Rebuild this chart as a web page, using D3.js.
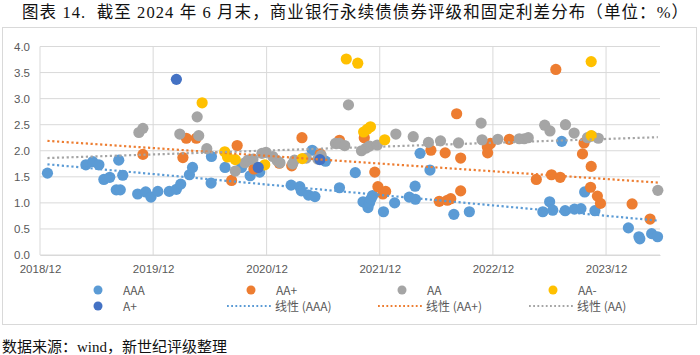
<!DOCTYPE html>
<html><head><meta charset="utf-8">
<script src="https://cdn.jsdelivr.net/npm/d3@7"></script>
<style>html,body{margin:0;padding:0;background:#fff;}svg{display:block;}</style>
</head><body>
<script>
// ---------- data ----------
const title = "图表 14.\u00A0\u00A0截至 2024 年 6 月末，商业银行永续债债券评级和固定利差分布（单位：%）";
const source = "数据来源：wind，新世纪评级整理";
const xTickLabels = ["2018/12","2019/12","2020/12","2021/12","2022/12","2023/12"];
const yTicks = [0,0.5,1,1.5,2,2.5,3,3.5,4];

const seriesAAA = [
 ["2018-12-25",1.57],["2019-04-28",1.73],["2019-05-20",1.79],["2019-06-09",1.73],["2019-06-25",1.45],
 ["2019-07-14",1.49],["2019-08-12",1.82],["2019-08-25",1.53],["2019-08-04",1.25],["2019-08-17",1.25],
 ["2019-10-12",1.17],["2019-11-07",1.21],["2019-11-24",1.11],["2019-12-16",1.22],["2020-01-22",1.22],
 ["2020-02-14",1.26],["2020-02-28",1.36],["2020-03-27",1.54],["2020-04-06",1.68],["2020-06-05",1.38],
 ["2020-06-06",1.89],["2020-07-20",1.68],["2020-09-11",1.68],["2020-10-09",1.52],["2020-11-09",1.59],
 ["2021-02-18",1.34],["2021-03-18",1.31],["2021-03-23",1.23],["2021-04-15",1.15],["2021-05-06",1.12],
 ["2021-04-27",2.01],["2021-06-09",1.80],["2021-07-24",1.29],["2021-09-13",1.58],["2021-10-08",1.02],
 ["2021-10-24",0.91],["2021-10-29",1.00],["2021-11-08",1.14],["2021-11-03",1.08],["2021-12-13",0.83],
 ["2022-01-18",1.00],["2022-03-06",1.11],["2022-03-26",1.07],["2022-03-25",1.32],["2022-04-10",1.95],
 ["2022-05-12",1.63],["2022-07-28",0.78],["2022-09-16",0.83],["2023-05-11",0.83],["2023-06-02",1.02],
 ["2023-06-12",0.86],["2023-07-11",2.18],["2023-07-22",0.85],["2023-08-21",0.88],["2023-09-11",0.89],
 ["2023-09-23",1.21],["2023-10-26",0.85],["2024-02-11",0.52],["2024-03-19",0.31],["2024-03-16",0.35],
 ["2024-04-26",0.41],["2024-05-15",0.35]
];
const seriesAAplus = [
 ["2019-10-29",1.93],["2020-03-06",1.87],["2020-03-17",2.24],["2020-04-18",2.24],["2020-08-10",1.43],
 ["2020-08-28",2.10],["2020-10-21",1.65],["2021-01-11",1.76],["2021-02-20",1.71],["2021-03-25",2.25],
 ["2021-05-23",1.94],["2021-07-24",2.20],["2021-10-12",2.25],["2021-11-15",1.59],["2021-11-25",1.31],
 ["2021-12-11",1.17],["2021-12-20",1.22],["2022-05-15",2.01],["2022-06-11",1.03],["2022-06-30",1.96],
 ["2022-07-07",1.05],["2022-07-18",1.08],["2022-08-06",2.71],["2022-08-19",1.86],["2022-08-19",1.23],
 ["2022-11-13",2.07],["2022-11-14",1.96],["2022-11-23",2.14],["2023-01-23",2.22],["2023-04-20",1.45],
 ["2023-06-08",1.54],["2023-06-22",3.56],["2023-07-06",1.49],["2023-09-16",1.94],["2023-09-21",2.15],
 ["2023-10-14",1.70],["2023-10-12",1.30],["2023-11-03",1.13],["2023-11-13",0.99],["2024-02-23",0.98],
 ["2024-04-21",0.69]
];
const seriesAA = [
 ["2019-10-16",2.35],["2019-10-29",2.43],["2020-02-25",2.32],["2020-04-21",2.65],["2020-04-26",2.29],
 ["2020-05-22",2.04],["2020-08-22",1.61],["2020-09-22",1.77],["2020-10-02",1.82],["2020-10-18",1.84],
 ["2020-11-16",1.95],["2020-11-29",1.97],["2020-12-21",1.89],["2021-01-04",1.81],["2021-01-13",1.77],
 ["2021-02-23",1.75],["2021-03-01",1.82],["2021-04-08",1.86],["2021-05-15",1.84],["2021-05-26",1.91],
 ["2021-07-11",2.14],["2021-07-24",2.14],["2021-08-10",2.10],["2021-08-22",2.88],["2021-10-03",2.00],
 ["2021-10-18",2.05],["2021-10-29",2.09],["2021-11-23",2.11],["2022-01-22",2.32],["2022-03-19",2.27],
 ["2022-05-07",2.16],["2022-06-15",2.19],["2022-08-12",2.15],["2022-10-24",2.53],["2022-10-27",2.21],
 ["2022-12-17",2.22],["2023-02-24",2.23],["2023-03-12",2.23],["2023-03-25",2.25],["2023-05-17",2.49],
 ["2023-06-03",2.38],["2023-07-23",2.50],["2023-08-20",2.34],["2023-10-02",2.25],["2023-10-17",2.28],
 ["2023-11-06",2.24],["2024-05-16",1.24]
];
const seriesAAminus = [
 ["2020-05-07",2.92],["2020-07-19",1.98],["2020-07-28",1.88],["2020-08-22",1.83],["2020-11-25",1.73],
 ["2021-03-26",1.85],["2021-08-15",3.76],["2021-09-21",3.68],["2021-10-10",2.36],["2021-10-21",2.41],
 ["2021-11-01",2.46],["2021-12-17",2.21],["2023-10-14",3.71],["2023-10-14",2.29]
];
const seriesAplus = [
 ["2020-02-14",3.37],["2020-11-04",1.68],["2021-05-22",1.83]
];
// linear trend lines, start / end values
const trendDates = ["2018-12-25","2024-05-16"];
const trendAAA = [1.74, 0.66];
const trendAAplus = [2.19, 1.39];
const trendAA = [1.86, 2.26];

// ---------- drawing ----------
const W = 700, H = 355;
const parse = d3.timeParse("%Y-%m-%d");
const svg = d3.select("body").append("svg").attr("width", W).attr("height", H);
const sans = "'Noto Sans CJK SC', 'Noto Sans', sans-serif";
const latin = "'Liberation Sans', Arial, sans-serif";
const serif = "'Liberation Serif', 'Noto Sans CJK SC', serif";

svg.append("text").attr("x", 22).attr("y", 18)
  .attr("font-family", serif).attr("font-size", 16.5).attr("fill", "#111")
  .attr("textLength", 666).attr("lengthAdjust", "spacing").text(title);

svg.append("rect").attr("x", 2.5).attr("y", 27.5).attr("width", 694).attr("height", 297)
  .attr("fill", "#fff").attr("stroke", "#d9d9d9");

const x = d3.scaleTime().domain([parse("2018-12-01"), parse("2024-05-23")]).range([40, 660]);
const y = d3.scaleLinear().domain([0, 4]).range([255, 46.5]);
const tickDates = xTickLabels.map(s => parse(s.replace("/", "-") + "-01"));

const g = svg.append("g");
// horizontal grid
g.selectAll(".hg").data(yTicks).join("line")
  .attr("x1", 40).attr("x2", 660).attr("y1", d => y(d)).attr("y2", d => y(d))
  .attr("stroke", "#d9d9d9").attr("stroke-width", 1);
// vertical grid
g.selectAll(".vg").data(tickDates).join("line")
  .attr("x1", d => x(d)).attr("x2", d => x(d)).attr("y1", y(4)).attr("y2", y(0))
  .attr("stroke", "#d9d9d9").attr("stroke-width", 1);

// axes labels
const yAxis = d3.axisLeft(y).tickValues(yTicks).tickFormat(d3.format(".1f")).tickSize(0).tickPadding(10);
const ya = svg.append("g").attr("transform", "translate(40,0)").call(yAxis);
ya.select(".domain").remove();
ya.selectAll("text").attr("font-family", latin).attr("font-size", 11.5).attr("fill", "#595959");

const xAxis = d3.axisBottom(x).tickValues(tickDates).tickFormat((d, i) => xTickLabels[i]).tickSize(0).tickPadding(10);
const xa = svg.append("g").attr("transform", "translate(0,255)").call(xAxis);
xa.select(".domain").attr("stroke", "#d9d9d9");
xa.selectAll("text").attr("font-family", latin).attr("font-size", 11.5).attr("fill", "#595959");

const colors = {AAA: "#5B9BD5", AAp: "#ED7D31", AA: "#A5A5A5", AAm: "#FFC000", Ap: "#4472C4"};
const R = 5.6;
function dots(data, color) {
  g.append("g").selectAll("circle").data(data).join("circle")
    .attr("cx", d => x(parse(d[0]))).attr("cy", d => y(d[1])).attr("r", R).attr("fill", color);
}
dots(seriesAAA, colors.AAA);
dots(seriesAAplus, colors.AAp);
dots(seriesAA, colors.AA);
dots(seriesAAminus, colors.AAm);
dots(seriesAplus, colors.Ap);

function trend(vals, color) {
  const pts = trendDates.map((d, i) => [x(parse(d)), y(vals[i])]);
  g.append("path").attr("d", d3.line()(pts)).attr("fill", "none")
    .attr("stroke", color).attr("stroke-width", 2.2)
    .attr("stroke-dasharray", "2.2 2.6");
}
trend(trendAAA, colors.AAA);
trend(trendAAplus, colors.AAp);
trend(trendAA, colors.AA);

// legend
const leg = svg.append("g").attr("font-family", sans).attr("font-size", 12).attr("fill", "#595959");
const legendItems = [
  {t: "AAA", c: colors.AAA, type: "dot", x: 98, y: 290},
  {t: "AA+", c: colors.AAp, type: "dot", x: 251, y: 290},
  {t: "AA", c: colors.AA, type: "dot", x: 402, y: 290},
  {t: "AA-", c: colors.AAm, type: "dot", x: 553, y: 290},
  {t: "A+", c: colors.Ap, type: "dot", x: 98, y: 306},
  {t: "线性 (AAA)", c: colors.AAA, type: "line", x: 250, y: 306},
  {t: "线性 (AA+)", c: colors.AAp, type: "line", x: 401, y: 306},
  {t: "线性 (AA)", c: colors.AA, type: "line", x: 552, y: 306}
];
legendItems.forEach(it => {
  if (it.type === "dot") {
    leg.append("circle").attr("cx", it.x).attr("cy", it.y).attr("r", 4.5).attr("fill", it.c);
  } else {
    leg.append("line").attr("x1", it.x - 23).attr("x2", it.x + 22).attr("y1", it.y).attr("y2", it.y)
      .attr("stroke", it.c).attr("stroke-width", 2).attr("stroke-dasharray", "1.8 2.4");
  }
  leg.append("text").attr("x", it.x + 25).attr("y", it.y + 4.5).text(it.t);
});

svg.append("text").attr("x", 2).attr("y", 352)
  .attr("font-family", serif).attr("font-size", 15).attr("fill", "#111").text(source);
</script>
</body></html>
